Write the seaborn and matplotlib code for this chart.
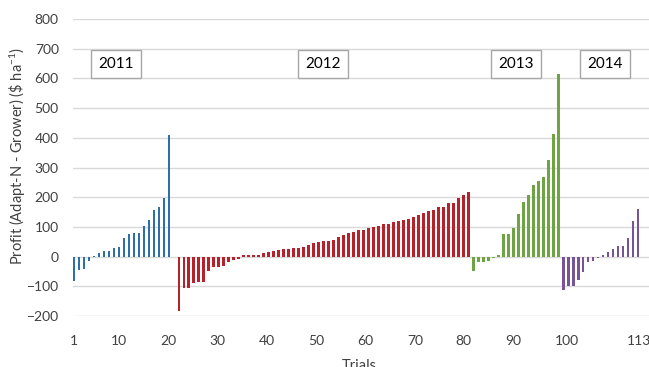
import numpy as np
import pandas as pd
import seaborn as sns
import matplotlib.pyplot as plt

# Profit per trial (Adapt-N minus grower), $ / ha
y2011 = [-81, -44, -41, -15, 3, 13, 19, 19, 29, 34, 61, 76, 78, 81, 104, 123, 156, 166, 197, 408]
y2012 = [-183, -106, -106, -89, -87, -85, -49, -36, -34, -31, -19, -10, -9, 4, 7, 7, 7, 11, 17, 20,
         23, 26, 27, 28, 28, 32, 39, 47, 50, 54, 54, 56, 67, 74, 78, 83, 89, 91, 97, 100,
         104, 110, 110, 116, 119, 124, 127, 134, 141, 146, 153, 156, 166, 168, 182, 182, 198, 207, 216]
y2013 = [-50, -18, -17, -15, -4, 5, 77, 77, 96, 143, 185, 208, 242, 256, 269, 324, 414, 614]
y2014 = [-112, -99, -99, -79, -52, -17, -16, -4, 4, 17, 27, 36, 36, 61, 119, 162]

years = ['2011', '2012', '2013', '2014']
colors = ['#2E6EAA', '#B5222B', '#6EA443', '#775496']
tick_labels = ['1', '10', '20', '30', '40', '50', '60', '70', '80', '90', '100', '113']

profit = y2011 + y2012 + y2013 + y2014
year = (['2011'] * len(y2011) + ['2012'] * len(y2012)
        + ['2013'] * len(y2013) + ['2014'] * len(y2014))
trial = np.arange(1, len(profit) + 1)
# one empty slot between 2011 and 2012 in the original
pos = trial + (trial > len(y2011))
df = pd.DataFrame({'pos': pos, 'profit': profit, 'year': year})

sns.set_style('white')
plt.rcParams['font.family'] = ['Lato', 'DejaVu Sans']
plt.rcParams['mathtext.default'] = 'regular'

fig = plt.figure(figsize=(6.49, 3.67), dpi=100)
ax = fig.add_axes([0.112, 0.139, 0.888, 0.809])

sns.barplot(data=df, x='pos', y='profit', hue='year', palette=dict(zip(years, colors)),
            native_scale=True, dodge=False, saturation=1, legend=False, ax=ax)

# same thin bar width for every series
for p in ax.patches:
    c = p.get_x() + p.get_width() / 2
    p.set_width(0.55)
    p.set_x(c - 0.275)
    p.set_linewidth(0)

ax.set_ylim(-200, 800)
ax.set_xlim(0.72, 116.2)
ax.set_yticks(range(-200, 801, 100))
ax.grid(axis='y', color='#D9D9D9', linewidth=1)
ax.set_axisbelow(True)
for s in ax.spines.values():
    s.set_visible(False)

tick_pos = [1, 10.06, 19.95, 29.8, 39.6, 49.6, 59.4, 69.3, 79.1, 88.9, 99.7, 114.1]
ax.set_xticks(tick_pos)
ax.set_xticklabels(tick_labels)
ax.tick_params(axis='both', length=0, labelsize=10, labelcolor='#404040')
ax.tick_params(axis='x', pad=14)
ax.tick_params(axis='y', pad=10)

ax.set_xlabel('Trials', fontsize=10.5, color='#404040')
ax.set_ylabel(r'Profit (Adapt-N - Grower) (\$ ha$^{-1}$)', fontsize=10.5, color='#404040')
ax.xaxis.set_label_coords(0.497, -0.145)
ax.yaxis.set_label_coords(-0.078, 0.54)

# year boxes
box_x = [116, 323, 516, 605]
for yr, bx in zip(years, box_x):
    ax.annotate(yr, xy=(bx / 649, 1 - 64 / 367), xycoords='figure fraction',
                ha='center', va='center', fontsize=11, color='black',
                bbox=dict(boxstyle='square,pad=0.45', fc='white', ec='#A6A6A6', lw=1))

fig.savefig('out.png', dpi=100)
